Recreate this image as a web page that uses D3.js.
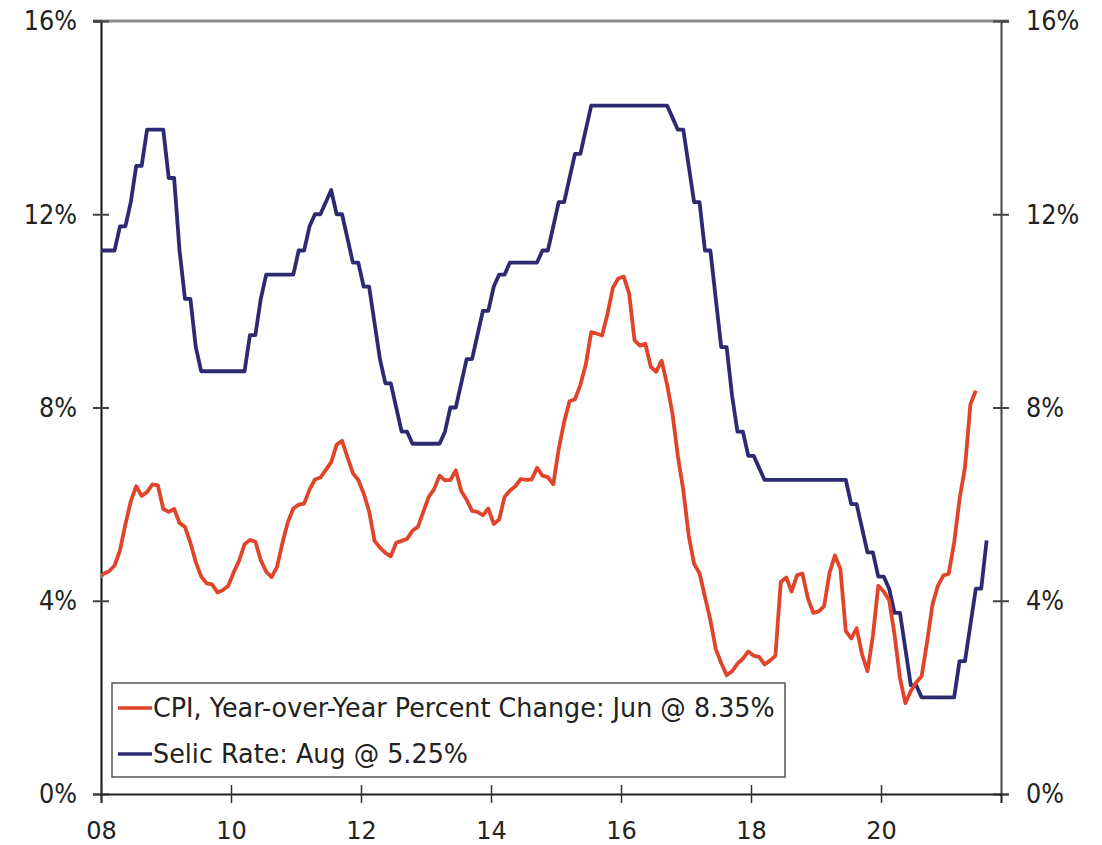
<!DOCTYPE html>
<html><head><meta charset="utf-8">
<script src="https://cdn.jsdelivr.net/npm/d3@7"></script>
<style>
body{margin:0;background:#fff}
text{font-family:"DejaVu Sans",Verdana,sans-serif;fill:#222}
</style>
</head><body>
<svg id="c" width="1102" height="845"></svg>
<script>
// monthly data, first value = Dec 2007
const startYear = 2007, startMonth = 12;
const cpi = [4.46,
 4.56,4.61,4.73,5.04,5.58,6.06,6.37,6.17,6.25,6.41,6.39,5.90,
 5.84,5.90,5.61,5.53,5.20,4.80,4.50,4.36,4.34,4.17,4.22,4.31,
 4.59,4.83,5.17,5.26,5.22,4.84,4.60,4.49,4.70,5.20,5.63,5.91,
 5.99,6.01,6.30,6.51,6.55,6.71,6.87,7.23,7.31,6.97,6.64,6.50,
 6.22,5.85,5.24,5.10,4.99,4.92,5.20,5.24,5.28,5.45,5.53,5.84,
 6.15,6.31,6.59,6.49,6.50,6.70,6.27,6.09,5.86,5.84,5.77,5.91,
 5.59,5.68,6.15,6.28,6.37,6.52,6.50,6.51,6.75,6.59,6.56,6.41,
 7.14,7.70,8.13,8.17,8.47,8.89,9.56,9.53,9.49,9.93,10.48,10.67,
 10.71,10.36,9.39,9.28,9.32,8.84,8.74,8.97,8.48,7.87,6.99,6.29,
 5.35,4.76,4.57,4.08,3.60,3.00,2.71,2.46,2.54,2.70,2.80,2.95,
 2.86,2.84,2.68,2.76,2.86,4.39,4.48,4.19,4.53,4.56,4.05,3.75,
 3.78,3.89,4.58,4.94,4.66,3.37,3.22,3.43,2.89,2.54,3.27,4.31,
 4.19,4.01,3.30,2.40,1.88,2.13,2.31,2.44,3.14,3.92,4.31,4.52,
 4.56,5.20,6.10,6.76,8.06,8.35];
const selic = [11.25,
 11.25,11.25,11.25,11.75,11.75,12.25,13.00,13.00,13.75,13.75,13.75,13.75,
 12.75,12.75,11.25,10.25,10.25,9.25,8.75,8.75,8.75,8.75,8.75,8.75,
 8.75,8.75,8.75,9.50,9.50,10.25,10.75,10.75,10.75,10.75,10.75,10.75,
 11.25,11.25,11.75,12.00,12.00,12.25,12.50,12.00,12.00,11.50,11.00,11.00,
 10.50,10.50,9.75,9.00,8.50,8.50,8.00,7.50,7.50,7.25,7.25,7.25,
 7.25,7.25,7.25,7.50,8.00,8.00,8.50,9.00,9.00,9.50,10.00,10.00,
 10.50,10.75,10.75,11.00,11.00,11.00,11.00,11.00,11.00,11.25,11.25,11.75,
 12.25,12.25,12.75,13.25,13.25,13.75,14.25,14.25,14.25,14.25,14.25,14.25,
 14.25,14.25,14.25,14.25,14.25,14.25,14.25,14.25,14.25,14.00,13.75,13.75,
 13.00,12.25,12.25,11.25,11.25,10.25,9.25,9.25,8.25,7.50,7.50,7.00,
 7.00,6.75,6.50,6.50,6.50,6.50,6.50,6.50,6.50,6.50,6.50,6.50,
 6.50,6.50,6.50,6.50,6.50,6.50,6.00,6.00,5.50,5.00,5.00,4.50,
 4.50,4.25,3.75,3.75,3.00,2.25,2.25,2.00,2.00,2.00,2.00,2.00,
 2.00,2.00,2.75,2.75,3.50,4.25,4.25,5.25];
const yTicks = [0,4,8,12,16];
const xTicks = [2008,2010,2012,2014,2016,2018,2020];
const xTickLabels = ["08","10","12","14","16","18","20"];
const legendLabels = ["CPI, Year-over-Year Percent Change: Jun @ 8.35%","Selic Rate: Aug @ 5.25%"];
const colors = ["#E0442A","#2E2A72"];

const svg = d3.select("#c");
const L=101, R=1001, T=21, B=794;
const x = d3.scaleLinear().domain([2008, 2021.846]).range([L,R]);
const y = d3.scaleLinear().domain([0,16]).range([B,T]);
const tYear = i => startYear + (startMonth-1+i+0.5)/12;
const TS = "scale(1,1.14)";

svg.append("defs").append("clipPath").attr("id","clip")
  .append("rect").attr("x",L).attr("y",T-5).attr("width",R-L).attr("height",B-T+5);

// top border
svg.append("line").attr("x1",93).attr("x2",1009).attr("y1",T).attr("y2",T)
  .attr("stroke","#8a8a8a").attr("stroke-width",3);

// left axis
const gl = svg.append("g").attr("transform",`translate(${L},0)`)
  .call(d3.axisLeft(y).tickValues(yTicks).tickFormat(d=>d+"%").tickSize(8).tickPadding(16));
gl.select(".domain").attr("stroke","#111").attr("stroke-width",2);
gl.selectAll(".tick line").attr("x1",-8).attr("x2",8).attr("stroke","#444").attr("stroke-width",2);
gl.selectAll(".tick text").attr("font-size",24).attr("fill","#222").attr("transform",TS);

// right axis
const gr = svg.append("g").attr("transform",`translate(${R},0)`)
  .call(d3.axisRight(y).tickValues(yTicks).tickFormat(d=>d+"%").tickSize(8).tickPadding(17));
gr.select(".domain").attr("stroke","#444").attr("stroke-width",2);
gr.selectAll(".tick line").attr("x1",-8).attr("x2",8).attr("stroke","#444").attr("stroke-width",2);
gr.selectAll(".tick text").attr("font-size",24).attr("fill","#222").attr("transform",TS);

// bottom axis
const gb = svg.append("g").attr("transform",`translate(0,${B})`)
  .call(d3.axisBottom(x).tickValues(xTicks).tickFormat((d,i)=>xTickLabels[i]).tickSize(9).tickPadding(24));
gb.select(".domain").attr("stroke","#222").attr("stroke-width",2);
gb.selectAll(".tick line").attr("y1",-9).attr("y2",9).attr("stroke","#333").attr("stroke-width",1.5);
gb.selectAll(".tick text").attr("font-size",24).attr("fill","#222").attr("y",0).attr("dy",0)
  .attr("transform","translate(0,45) scale(1,1.06)");

// lines
const line = d3.line().x((d,i)=>x(tYear(i))).y(d=>y(d));
const plot = svg.append("g").attr("clip-path","url(#clip)");
plot.append("path").datum(selic).attr("d",line).attr("fill","none")
  .attr("stroke",colors[1]).attr("stroke-width",3.8).attr("stroke-linejoin","round");
plot.append("path").datum(cpi).attr("d",line).attr("fill","none")
  .attr("stroke",colors[0]).attr("stroke-width",3.8).attr("stroke-linejoin","round");

// legend
const lg = svg.append("g");
lg.append("rect").attr("x",112).attr("y",683).attr("width",673).attr("height",94)
  .attr("fill","#fff").attr("stroke","#555").attr("stroke-width",1.5);
legendLabels.forEach((t,i)=>{
  const cy = 708 + i*46;
  lg.append("line").attr("x1",118).attr("x2",152).attr("y1",cy).attr("y2",cy)
    .attr("stroke",colors[i]).attr("stroke-width",3.5);
  lg.append("text").attr("transform",`translate(153,${cy+9}) scale(1.06,1.14)`)
    .attr("font-size",24).text(t);
});
</script>
</body></html>
